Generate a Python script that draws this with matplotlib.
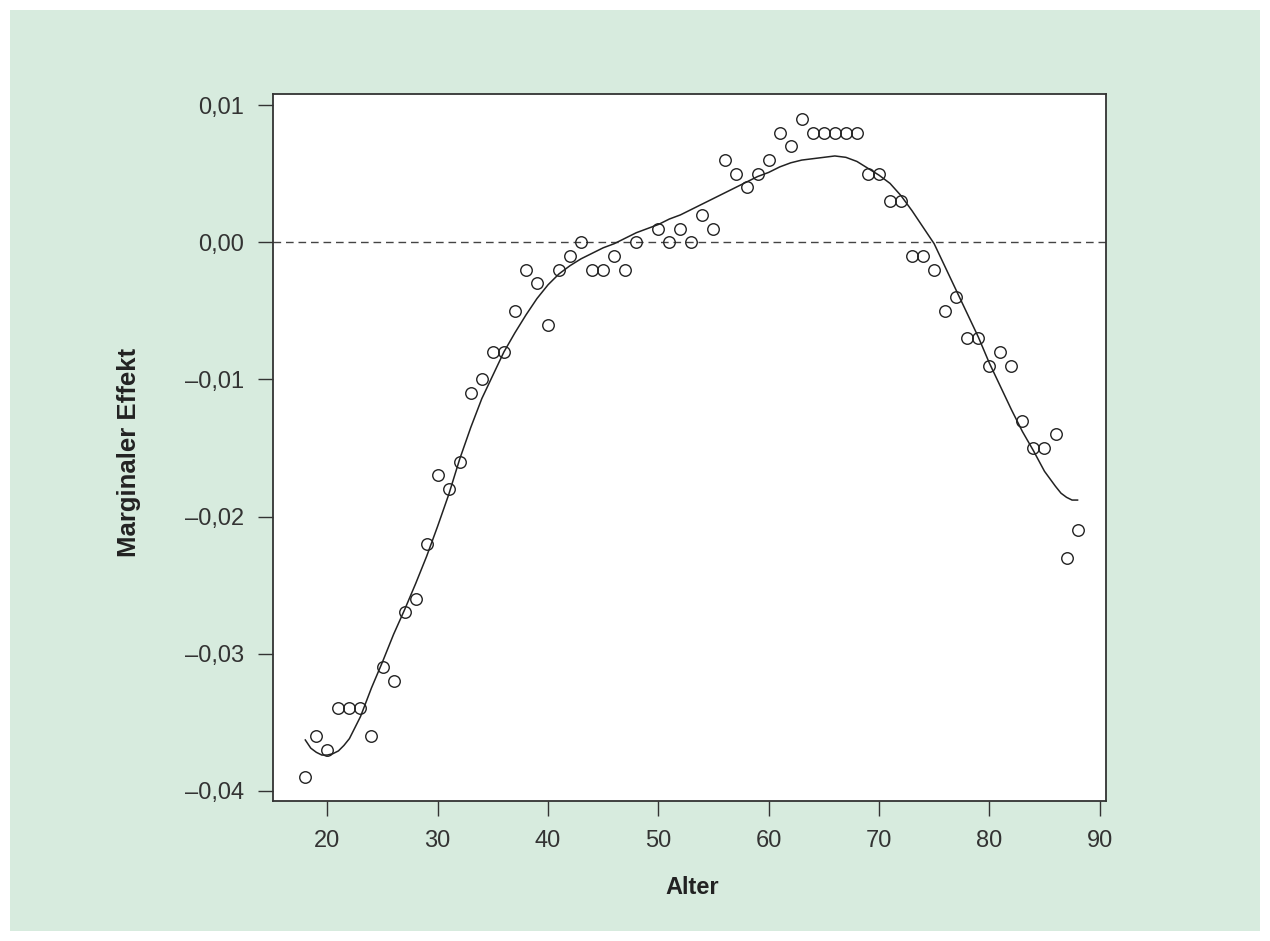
import numpy as np
import matplotlib
matplotlib.use("Agg")
import matplotlib.pyplot as plt
from matplotlib.patches import Rectangle

plt.rcParams['font.family'] = ['Liberation Sans', 'DejaVu Sans']

# observed marginal effects per age (no point at 49)
ages = [18, 19, 20, 21, 22, 23, 24, 25, 26, 27, 28, 29, 30, 31, 32, 33, 34, 35,
        36, 37, 38, 39, 40, 41, 42, 43, 44, 45, 46, 47, 48,
        50, 51, 52, 53, 54, 55, 56, 57, 58, 59, 60, 61, 62, 63, 64, 65, 66, 67,
        68, 69, 70, 71, 72, 73, 74, 75, 76, 77, 78, 79, 80, 81, 82, 83, 84, 85,
        86, 87, 88]
effects = [-0.039, -0.036, -0.037, -0.034, -0.034, -0.034, -0.036, -0.031, -0.032,
           -0.027, -0.026, -0.022, -0.017, -0.018, -0.016, -0.011, -0.010, -0.008,
           -0.008, -0.005, -0.002, -0.003, -0.006, -0.002, -0.001, 0.000, -0.002,
           -0.002, -0.001, -0.002, 0.000,
           0.001, 0.000, 0.001, 0.000, 0.002, 0.001, 0.006, 0.005, 0.004, 0.005,
           0.006, 0.008, 0.007, 0.009, 0.008, 0.008, 0.008, 0.008, 0.008, 0.005,
           0.005, 0.003, 0.003, -0.001, -0.001, -0.002, -0.005, -0.004, -0.007,
           -0.007, -0.009, -0.008, -0.009, -0.013, -0.015, -0.015, -0.014, -0.023,
           -0.021]

# smoothed curve (denser where it bends)
curve_ages = [18, 18.5, 19, 19.5, 20, 20.5, 21, 21.5, 22, 23, 24, 25, 26, 27, 28, 29,
              30, 31, 32, 33, 34, 35, 36, 37, 38, 39, 40, 41, 42, 43, 44, 45, 46, 47,
              48, 49, 50, 51, 52, 53, 54, 55, 56, 57, 58, 59, 60, 61, 62, 63, 64, 65,
              66, 67, 68, 69, 70, 71, 72, 73, 74, 75, 76, 77, 78, 79, 80, 81, 82, 83,
              84, 85, 86, 86.5, 87, 87.5, 88]
curve_vals = [-0.0363, -0.0369, -0.0372, -0.0374, -0.0374, -0.0373, -0.0371, -0.0367,
              -0.0362, -0.0346, -0.0325, -0.0306, -0.0286, -0.0268, -0.0249, -0.0229,
              -0.0207, -0.0184, -0.0158, -0.0135, -0.0114, -0.0097, -0.0080, -0.0066,
              -0.0053, -0.0041, -0.0031, -0.0023, -0.0017, -0.0012, -0.0008, -0.0004,
              -0.0001, 0.0003, 0.0007, 0.0010, 0.0013, 0.0017, 0.0020, 0.0024, 0.0028,
              0.0032, 0.0036, 0.0040, 0.0044, 0.0048, 0.0051, 0.0055, 0.0058, 0.0060,
              0.0061, 0.0062, 0.0063, 0.0062, 0.0059, 0.0054, 0.0049, 0.0043, 0.0034,
              0.0023, 0.0011, -0.0001, -0.0018, -0.0035, -0.0052, -0.0069, -0.0088,
              -0.0105, -0.0122, -0.0138, -0.0152, -0.0167, -0.0178, -0.0183, -0.0186,
              -0.0188, -0.0188]

x_ticks = [20, 30, 40, 50, 60, 70, 80, 90]
y_ticks = [0.01, 0.0, -0.01, -0.02, -0.03, -0.04]
y_ticklabels = ['0,01', '0,00', '\u20130,01', '\u20130,02', '\u20130,03', '\u20130,04']

W, H = 1270, 941
fig = plt.figure(figsize=(W / 100, H / 100), dpi=100)
fig.patch.set_facecolor('white')
fig.add_artist(Rectangle((10 / W, 10 / H), 1250 / W, 921 / H, transform=fig.transFigure,
                         facecolor='#d7ebde', edgecolor='none', zorder=0))

ax = fig.add_axes([273.3 / W, 1 - 800.7 / H, 832.4 / W, 706.7 / H])
ax.set_facecolor('white')

ax.axhline(0, color='#444444', lw=1.0, ls=(0, (5.5, 3.5)), zorder=1)
ax.plot(curve_ages, curve_vals, color='#222222', lw=1.1, solid_joinstyle='round', zorder=2)
ax.plot(ages, effects, 'o', mfc='none', mec='#222222', ms=8.3, mew=1.0, zorder=3)

ax.set_xlim(15.1, 90.55)
ax.set_ylim(-0.04073, 0.01082)
ax.set_xticks(x_ticks)
ax.set_yticks(y_ticks)
ax.set_yticklabels(y_ticklabels)

ax.tick_params(direction='out', length=11, width=1.0, pad=10, labelsize=17,
               color='#333333', labelcolor='#333333')
for s in ax.spines.values():
    s.set_linewidth(1.3)
    s.set_color('#333333')

fig.text(692 / W, 1 - 888 / H, 'Alter', ha='center', va='center',
         fontsize=17, fontweight='bold', color='#222222')
fig.text(129 / W, 1 - 452 / H, 'Marginaler Effekt', ha='center', va='center',
         rotation=90, fontsize=18.5, fontweight='bold', color='#222222')

fig.savefig('out.png', dpi=100)
